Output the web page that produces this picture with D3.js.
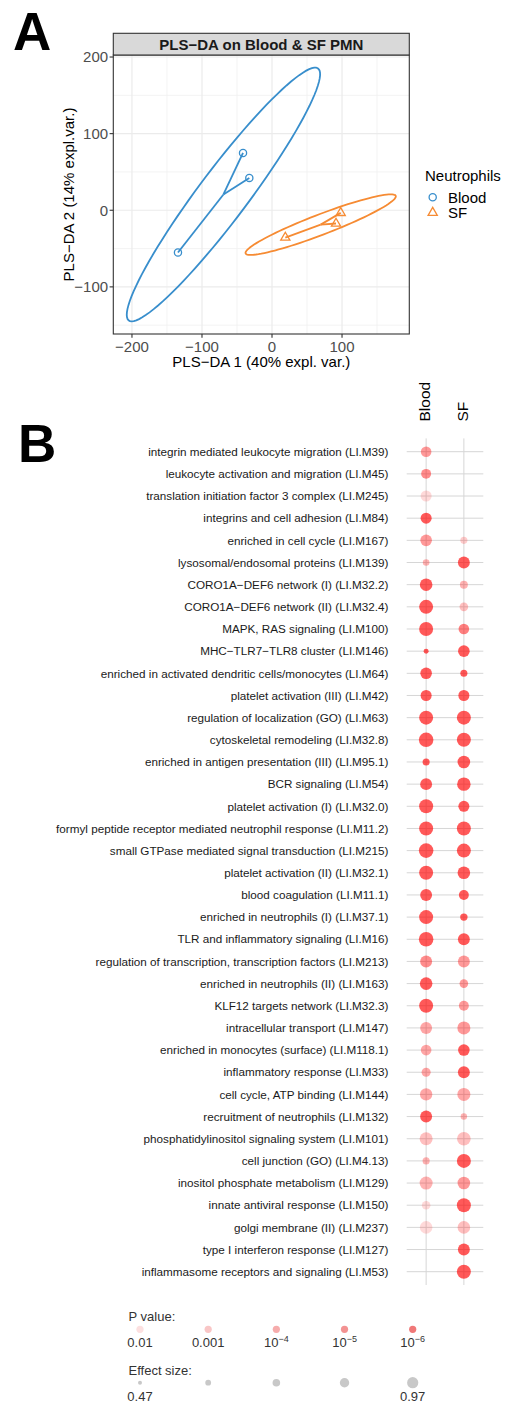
<!DOCTYPE html>
<html>
<head>
<meta charset="utf-8">
<script src="https://cdn.jsdelivr.net/npm/d3@7"></script>
<style>
  body { margin: 0; background: #fff; }
  svg { display: block; }
  text { font-family: "Liberation Sans", Arial, Helvetica, sans-serif; }
</style>
</head>
<body>
<svg id="fig" width="508" height="1403"></svg>
<script>
// ---------- Panel A: PLS-DA scores ----------
const groups = ["Blood", "SF"];
const groupColors = ["#388ECC", "#F68B33"];
const comp1Blood = [-41.4, -32.4, -134.3];
const comp2Blood = [74.8, 42.2, -55.2];
const comp1SF = [98.1, 91.4, 19.0];
const comp2SF = [-3.4, -17.3, -35.6];
const xTicks = [-200, -100, 0, 100];
const yTicks = [-100, 0, 100, 200];
const xMinor = [-150, -50, 50, 150];
const yMinor = [-150, -50, 50, 150];
const ellipseChi2 = 5.991; // 95% quantile, chi-square with 2 df

// ---------- Panel B: module enrichment ----------
const modules = [
  "integrin mediated leukocyte migration (LI.M39)",
  "leukocyte activation and migration (LI.M45)",
  "translation initiation factor 3 complex (LI.M245)",
  "integrins and cell adhesion (LI.M84)",
  "enriched in cell cycle (LI.M167)",
  "lysosomal/endosomal proteins (LI.M139)",
  "CORO1A\u2212DEF6 network (I) (LI.M32.2)",
  "CORO1A\u2212DEF6 network (II) (LI.M32.4)",
  "MAPK, RAS signaling (LI.M100)",
  "MHC\u2212TLR7\u2212TLR8 cluster (LI.M146)",
  "enriched in activated dendritic cells/monocytes (LI.M64)",
  "platelet activation (III) (LI.M42)",
  "regulation of localization (GO) (LI.M63)",
  "cytoskeletal remodeling (LI.M32.8)",
  "enriched in antigen presentation (III) (LI.M95.1)",
  "BCR signaling (LI.M54)",
  "platelet activation (I) (LI.M32.0)",
  "formyl peptide receptor mediated neutrophil response (LI.M11.2)",
  "small GTPase mediated signal transduction (LI.M215)",
  "platelet activation (II) (LI.M32.1)",
  "blood coagulation (LI.M11.1)",
  "enriched in neutrophils (I) (LI.M37.1)",
  "TLR and inflammatory signaling (LI.M16)",
  "regulation of transcription, transcription factors (LI.M213)",
  "enriched in neutrophils (II) (LI.M163)",
  "KLF12 targets network (LI.M32.3)",
  "intracellular transport (LI.M147)",
  "enriched in monocytes (surface) (LI.M118.1)",
  "inflammatory response (LI.M33)",
  "cell cycle, ATP binding (LI.M144)",
  "recruitment of neutrophils (LI.M132)",
  "phosphatidylinositol signaling system (LI.M101)",
  "cell junction (GO) (LI.M4.13)",
  "inositol phosphate metabolism (LI.M129)",
  "innate antiviral response (LI.M150)",
  "golgi membrane (II) (LI.M237)",
  "type I interferon response (LI.M127)",
  "inflammasome receptors and signaling (LI.M53)"
];
const conditions = ["Blood", "SF"];
// effect size (AUC); null = not significant
const effectBlood = [0.77, 0.74, 0.79, 0.79, 0.815, 0.59, 0.86, 0.925, 0.925, 0.515,
  0.815, 0.79, 0.925, 0.95, 0.61, 0.83, 0.925, 0.925, 0.95, 0.925,
  0.83, 0.925, 0.95, 0.83, 0.86, 0.925, 0.83, 0.77, 0.70, 0.85,
  0.83, 0.88, 0.61, 0.88, 0.68, 0.86, null, null];
const effectSF = [null, null, null, null, 0.61, 0.83, 0.65, 0.68, 0.77, 0.815,
  0.61, 0.79, 0.925, 0.925, 0.86, 0.90, 0.79, 0.925, 0.925, 0.86,
  0.74, 0.625, 0.83, 0.83, 0.68, 0.74, 0.88, 0.815, 0.83, 0.88,
  0.58, 0.91, 0.925, 0.86, 0.925, 0.86, 0.83, 0.925];
const pBlood = [1e-4, 4e-5, 1e-2, 1e-7, 1e-4, 6e-4, 1e-7, 1e-8, 1e-8, 1e-7,
  1e-7, 1e-7, 1e-8, 1e-8, 1e-6, 1e-7, 1e-8, 1e-8, 1e-8, 1e-8,
  1e-7, 1e-8, 1e-8, 4e-5, 1e-7, 1e-8, 2.5e-4, 2.5e-4, 2.5e-4, 2.5e-4,
  1e-7, 1.6e-3, 6e-4, 6e-4, 1e-2, 1e-2, null, null];
const pSF = [null, null, null, null, 4e-3, 1e-7, 6e-4, 1.6e-3, 1.6e-5, 1e-7,
  1e-6, 1e-7, 1e-8, 1e-8, 1e-7, 1e-7, 1e-7, 1e-8, 1e-8, 1e-7,
  1e-7, 1e-6, 1e-7, 1e-4, 1e-4, 1e-4, 1e-4, 1e-6, 1e-6, 2.5e-4,
  6e-4, 1.6e-3, 1e-7, 1e-4, 1e-8, 1.6e-3, 1e-7, 1e-8];

// legend values
const pLegend = [1e-2, 1e-3, 1e-4, 1e-5, 1e-6];
const pLegendLabels = ["0.01", "0.001", "10|\u22124", "10|\u22125", "10|\u22126"];
const effectLegend = [0.47, 0.595, 0.72, 0.845, 0.97];
const effectLegendLabels = ["0.47", "", "", "", "0.97"];

const svg = d3.select("#fig");

// ===== Panel A =====
function confEllipse(xs, ys, n = 100) {
  const mx = d3.mean(xs), my = d3.mean(ys);
  const sx = d3.deviation(xs), sy = d3.deviation(ys);
  const cov = d3.sum(xs, (x, i) => (x - mx) * (ys[i] - my)) / (xs.length - 1);
  const d = Math.acos(cov / (sx * sy));
  const t = Math.sqrt(ellipseChi2);
  return d3.range(n).map(i => {
    const a = 2 * Math.PI * i / (n - 1);
    return [t * sx * Math.cos(a + d / 2) + mx, t * sy * Math.cos(a - d / 2) + my];
  });
}

const series = [
  { name: groups[0], color: groupColors[0], xs: comp1Blood, ys: comp2Blood, shape: "circle" },
  { name: groups[1], color: groupColors[1], xs: comp1SF, ys: comp2SF, shape: "triangle" }
];
series.forEach(s => {
  s.ell = confEllipse(s.xs, s.ys);
  s.cx = d3.mean(s.xs); s.cy = d3.mean(s.ys);
});

const allEll = series.flatMap(s => s.ell);
function expand(ext, f = 0.05) { const d = (ext[1] - ext[0]) * f; return [ext[0] - d, ext[1] + d]; }
const xDom = expand(d3.extent(allEll, p => p[0]));
const yDom = expand(d3.extent(allEll, p => p[1]));

const A = { left: 113.3, right: 409.3, top: 55, bottom: 334, stripTop: 33.3 };
const xA = d3.scaleLinear().domain(xDom).range([A.left, A.right]);
const yA = d3.scaleLinear().domain(yDom).range([A.bottom, A.top]);

const gA = svg.append("g");
gA.append("rect").attr("x", A.left).attr("y", A.top).attr("width", A.right - A.left)
  .attr("height", A.bottom - A.top).attr("fill", "#fff");

// grid
gA.selectAll(".vminor").data(xMinor).join("line")
  .attr("x1", d => xA(d)).attr("x2", d => xA(d)).attr("y1", A.top).attr("y2", A.bottom)
  .attr("stroke", "#f0f0f0").attr("stroke-width", 0.8);
gA.selectAll(".hminor").data(yMinor).join("line")
  .attr("y1", d => yA(d)).attr("y2", d => yA(d)).attr("x1", A.left).attr("x2", A.right)
  .attr("stroke", "#f0f0f0").attr("stroke-width", 0.8);
gA.selectAll(".vmajor").data(xTicks).join("line")
  .attr("x1", d => xA(d)).attr("x2", d => xA(d)).attr("y1", A.top).attr("y2", A.bottom)
  .attr("stroke", "#ebebeb").attr("stroke-width", 1.2);
gA.selectAll(".hmajor").data(yTicks).join("line")
  .attr("y1", d => yA(d)).attr("y2", d => yA(d)).attr("x1", A.left).attr("x2", A.right)
  .attr("stroke", "#ebebeb").attr("stroke-width", 1.2);

// ellipses, centroid stars, points
const line = d3.line().x(d => xA(d[0])).y(d => yA(d[1]));
series.forEach(s => {
  gA.append("path").attr("d", line(s.ell)).attr("fill", "none")
    .attr("stroke", s.color).attr("stroke-width", 1.8);
  s.xs.forEach((x, i) => {
    gA.append("line").attr("x1", xA(s.cx)).attr("y1", yA(s.cy))
      .attr("x2", xA(x)).attr("y2", yA(s.ys[i]))
      .attr("stroke", s.color).attr("stroke-width", 1.8);
  });
});
function drawShape(g, shape, x, y, color) {
  if (shape === "circle") {
    g.append("circle").attr("cx", x).attr("cy", y).attr("r", 3.6)
      .attr("fill", "none").attr("stroke", color).attr("stroke-width", 1.3);
  } else {
    const s = 9.2, h = s * Math.sqrt(3) / 2;
    g.append("path")
      .attr("d", `M${x},${y - h * 2 / 3}L${x + s / 2},${y + h / 3}L${x - s / 2},${y + h / 3}Z`)
      .attr("fill", "none").attr("stroke", color).attr("stroke-width", 1.3);
  }
}
series.forEach(s => {
  s.xs.forEach((x, i) => drawShape(gA, s.shape, xA(x), yA(s.ys[i]), s.color));
});

// panel border + strip
gA.append("rect").attr("x", A.left).attr("y", A.top).attr("width", A.right - A.left)
  .attr("height", A.bottom - A.top).attr("fill", "none").attr("stroke", "#333").attr("stroke-width", 1.1);
gA.append("rect").attr("x", A.left).attr("y", A.stripTop).attr("width", A.right - A.left)
  .attr("height", A.top - A.stripTop).attr("fill", "#d9d9d9").attr("stroke", "#333").attr("stroke-width", 1.1);
gA.append("text").attr("x", (A.left + A.right) / 2).attr("y", (A.stripTop + A.top) / 2)
  .attr("dy", "0.36em").attr("text-anchor", "middle").attr("font-weight", "bold")
  .attr("font-size", 15).attr("fill", "#1a1a1a").text("PLS\u2212DA on Blood & SF PMN");

// axes
const fmt = d3.format("d");
gA.selectAll(".xt").data(xTicks).join("line")
  .attr("x1", d => xA(d)).attr("x2", d => xA(d)).attr("y1", A.bottom).attr("y2", A.bottom + 3.7)
  .attr("stroke", "#333").attr("stroke-width", 1.1);
gA.selectAll(".xl").data(xTicks).join("text")
  .attr("x", d => xA(d)).attr("y", A.bottom + 18).attr("text-anchor", "middle")
  .attr("font-size", 15).attr("fill", "#4d4d4d").text(d => fmt(d));
gA.selectAll(".yt").data(yTicks).join("line")
  .attr("y1", d => yA(d)).attr("y2", d => yA(d)).attr("x1", A.left - 3.7).attr("x2", A.left)
  .attr("stroke", "#333").attr("stroke-width", 1.1);
gA.selectAll(".yl").data(yTicks).join("text")
  .attr("x", A.left - 5.2).attr("y", d => yA(d)).attr("dy", "0.36em").attr("text-anchor", "end")
  .attr("font-size", 15).attr("fill", "#4d4d4d").text(d => fmt(d));

gA.append("text").attr("x", (A.left + A.right) / 2).attr("y", 367)
  .attr("text-anchor", "middle").attr("font-size", 15).attr("fill", "#000")
  .text("PLS\u2212DA 1 (40% expl. var.)");
gA.append("text").attr("transform", `translate(73.5,${(A.top + A.bottom) / 2}) rotate(-90)`)
  .attr("text-anchor", "middle").attr("font-size", 15).attr("fill", "#000")
  .text("PLS\u2212DA 2 (14% expl.var.)");

// legend A
gA.append("text").attr("x", 425).attr("y", 181).attr("font-size", 15).attr("fill", "#000").text("Neutrophils");
series.forEach((s, i) => {
  const ly = 197.3 + i * 15.4;
  drawShape(gA, s.shape, 432.7, ly, s.color);
  gA.append("text").attr("x", 448).attr("y", ly).attr("dy", "0.36em")
    .attr("font-size", 15).attr("fill", "#000").text(s.name);
});

// panel letters
svg.append("text").attr("x", 13).attr("y", 50).attr("font-family", "'Open Sans', 'Liberation Sans', sans-serif")
  .attr("font-weight", 700).attr("font-size", 53).attr("fill", "#000").text("A");
svg.append("text").attr("x", 18).attr("y", 461.5).attr("font-family", "'Open Sans', 'Liberation Sans', sans-serif")
  .attr("font-weight", 700).attr("font-size", 53).attr("fill", "#000").text("B");

// ===== Panel B =====
const B = { left: 406.7, right: 483.3, top: 438.4, bottom: 1285 };
const xB = d3.scalePoint().domain(conditions).range([B.left, B.right]).padding(0.515);
const yB = d3.scalePoint().domain(modules).range([B.top, B.bottom]).padding(0.6);
const rB = d3.scaleLinear().domain([0.47, 0.97]).range([2, 7.5]);
const alphaB = d3.scaleLinear().domain([2, 6]).range([0.15, 0.65]).clamp(true);

const gB = svg.append("g");
gB.selectAll(".hg").data(modules).join("line")
  .attr("x1", B.left).attr("x2", B.right).attr("y1", d => yB(d)).attr("y2", d => yB(d))
  .attr("stroke", "#d6d6d6").attr("stroke-width", 1);
gB.selectAll(".vg").data(conditions).join("line")
  .attr("x1", d => xB(d)).attr("x2", d => xB(d)).attr("y1", B.top).attr("y2", B.bottom)
  .attr("stroke", "#d6d6d6").attr("stroke-width", 1);

const cells = [];
modules.forEach((m, i) => {
  [[conditions[0], effectBlood[i], pBlood[i]], [conditions[1], effectSF[i], pSF[i]]].forEach(([c, e, p]) => {
    if (e != null && p != null) cells.push({ module: m, cond: c, effect: e, p: p });
  });
});
gB.selectAll(".dot").data(cells).join("circle")
  .attr("cx", d => xB(d.cond)).attr("cy", d => yB(d.module))
  .attr("r", d => rB(d.effect))
  .attr("fill", "#ff0000").attr("fill-opacity", d => alphaB(-Math.log10(d.p)));

gB.selectAll(".rowlab").data(modules).join("text")
  .attr("x", 388.5).attr("y", d => yB(d)).attr("dy", "0.36em").attr("text-anchor", "end")
  .attr("font-size", 11.7).attr("fill", "#1a1a1a").text(d => d);

gB.selectAll(".collab").data(conditions).join("text")
  .attr("transform", d => `translate(${xB(d) + 4.3},421.5) rotate(-90)`)
  .attr("font-size", 15.5).attr("fill", "#000").text(d => d);

// ----- legend B -----
const xLeg = d3.scalePoint().domain(d3.range(5)).range([140, 412.7]);
const rLeg = d3.scaleLinear().domain([0.47, 0.97]).range([2, 5.6]);
const gL = svg.append("g").attr("fill", "#333");
gL.append("text").attr("x", 128.5).attr("y", 1321.2).attr("font-size", 13).text("P value:");
gL.selectAll(".pdot").data(pLegend).join("circle")
  .attr("cx", (d, i) => xLeg(i)).attr("cy", 1329.3).attr("r", 3.6)
  .attr("fill", "#e83030").attr("fill-opacity", d => alphaB(-Math.log10(d)));
pLegendLabels.forEach((lab, i) => {
  const t = gL.append("text").attr("x", xLeg(i)).attr("y", 1347.3).attr("text-anchor", "middle").attr("font-size", 13);
  const parts = lab.split("|");
  t.append("tspan").text(parts[0]);
  if (parts[1]) t.append("tspan").attr("font-size", 9).attr("dy", -5).text(parts[1]);
});
gL.append("text").attr("x", 128.5).attr("y", 1374.6).attr("font-size", 13).text("Effect size:");
gL.selectAll(".edot").data(effectLegend).join("circle")
  .attr("cx", (d, i) => xLeg(i)).attr("cy", 1382.7).attr("r", d => rLeg(d))
  .attr("fill", "#c8c8c8");
gL.selectAll(".elab").data(effectLegendLabels).join("text")
  .attr("x", (d, i) => xLeg(i)).attr("y", 1400.6).attr("text-anchor", "middle").attr("font-size", 13)
  .text(d => d);
</script>
</body>
</html>
